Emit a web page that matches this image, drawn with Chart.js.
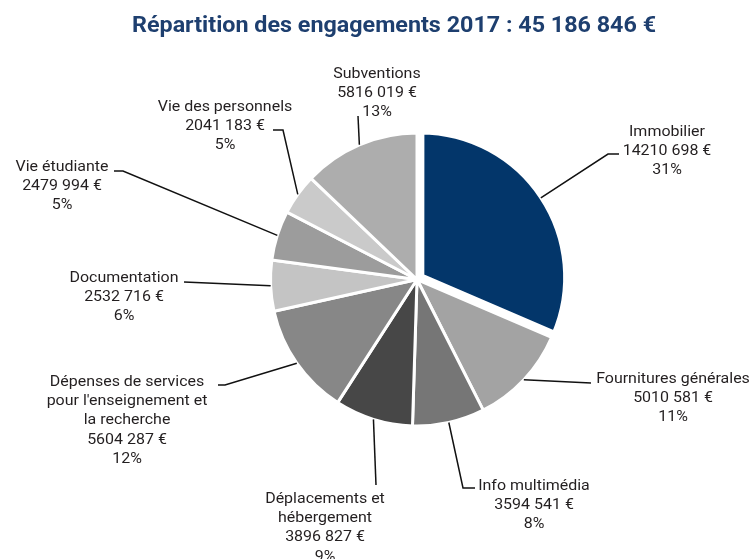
<!DOCTYPE html>
<html>
<head>
<meta charset="utf-8">
<script src="https://cdn.jsdelivr.net/npm/chart.js@4/dist/chart.umd.min.js"></script>
<style>
  html, body { margin: 0; padding: 0; background: #fff; }
  #wrap { width: 756px; height: 559px; }
</style>
</head>
<body>
<div id="wrap"><canvas id="pieChart"></canvas></div>
<script>
// Data
const categories = [
  ['Immobilier'],
  ['Fournitures générales'],
  ['Info multimédia'],
  ['Déplacements et', 'hébergement'],
  ['Dépenses de services', "pour l'enseignement et", 'la recherche'],
  ['Documentation'],
  ['Vie étudiante'],
  ['Vie des personnels'],
  ['Subventions']
];
const amounts = [14210698, 5010581, 3594541, 3896827, 5604287, 2532716, 2479994, 2041183, 5816019];
const titleText = 'Répartition des engagements 2017 : 45 186 846 €';

// Styles
const sliceColors = ['#03366a', '#a3a3a3', '#767676', '#474747', '#878787', '#c4c4c4', '#9c9c9c', '#cacaca', '#adadad'];
const sliceOffsets = [16, 0, 0, 0, 0, 0, 0, 0, 0];
const sliceBorders = [8, 3, 3, 3, 3, 3, 3, 3, 3];

// Label layout: text centre, first line y, leader bend + end
const labelLayout = [
  { x: 667, y: 132, bend: [608, 154], end: [619, 154] },
  { x: 673, y: 379, bend: [591, 383], end: [591, 383] },
  { x: 534, y: 486, bend: [463, 488], end: [475, 488] },
  { x: 325, y: 499, bend: [376, 485], end: [376, 485] },
  { x: 127, y: 382, bend: [225, 385], end: [218, 385] },
  { x: 124, y: 278, bend: [184, 282], end: [184, 282] },
  { x: 62, y: 167, bend: [123, 171], end: [114, 171] },
  { x: 225, y: 107, bend: [283, 130], end: [273, 130] },
  { x: 377, y: 74, bend: [358, 116], end: [358, 116] }
];

const total = amounts.reduce((a, b) => a + b, 0);

function formatEuro(v) {
  const high = Math.floor(v / 1000);
  const low = String(v % 1000).padStart(3, '0');
  return high + ' ' + low + ' €';
}

const fontFamily = 'Roboto, "DejaVu Sans", sans-serif';

// text drawn a bit wider than Roboto, closer to the DIN-like face of the original
function wideText(ctx, text, x, y, sx) {
  ctx.save();
  ctx.translate(x, y);
  ctx.scale(sx, 1);
  ctx.fillText(text, 0, 0);
  ctx.restore();
}

const pieLabels = {
  id: 'pieLabels',
  afterDraw(chart) {
    const ctx = chart.ctx;
    const arcs = chart.getDatasetMeta(0).data;
    ctx.save();
    ctx.textAlign = 'center';
    ctx.textBaseline = 'middle';

    // title: tall bold face fitted to the reference width
    ctx.font = 'bold 22px ' + fontFamily;
    ctx.fillStyle = '#1e3f6f';
    wideText(ctx, titleText, 394, 26, 524 / ctx.measureText(titleText).width);

    arcs.forEach((arc, i) => {
      const p = arc.getProps(['x', 'y', 'startAngle', 'endAngle', 'outerRadius'], true);
      const mid = (p.startAngle + p.endAngle) / 2;
      // same shift the arc element applies when drawing an offset slice
      const off = (sliceOffsets[i] || 0) / 4;
      const fix = 1 - Math.sin(Math.min(Math.PI, p.endAngle - p.startAngle));
      const r = p.outerRadius + off * (1 + fix) - sliceBorders[i] / 2 + 1.5;
      const x0 = p.x + Math.cos(mid) * r;
      const y0 = p.y + Math.sin(mid) * r;
      const lay = labelLayout[i];

      ctx.strokeStyle = '#111';
      ctx.lineWidth = 1.5;
      ctx.beginPath();
      ctx.moveTo(x0, y0);
      ctx.lineTo(lay.bend[0], lay.bend[1]);
      ctx.lineTo(lay.end[0], lay.end[1]);
      ctx.stroke();

      const lines = categories[i].concat([
        formatEuro(amounts[i]),
        Math.round(amounts[i] / total * 100) + '%'
      ]);
      ctx.fillStyle = '#231f20';
      ctx.font = '15.5px ' + fontFamily;
      lines.forEach((t, k) => wideText(ctx, t, lay.x, lay.y + k * 19.3, 1.03));
    });
    ctx.restore();
  }
};

new Chart(document.getElementById('pieChart'), {
  type: 'pie',
  data: {
    labels: categories.map(c => c.join(' ')),
    datasets: [{
      data: amounts,
      backgroundColor: sliceColors,
      borderColor: '#ffffff',
      borderWidth: sliceBorders,
      hoverBorderWidth: sliceBorders,
      offset: sliceOffsets
    }]
  },
  options: {
    responsive: true,
    maintainAspectRatio: false,
    animation: false,
    layout: {
      padding: { top: 121, bottom: 121, left: 217, right: 139 }
    },
    plugins: {
      legend: { display: false },
      tooltip: { enabled: false }
    }
  },
  plugins: [pieLabels]
});
</script>
</body>
</html>
